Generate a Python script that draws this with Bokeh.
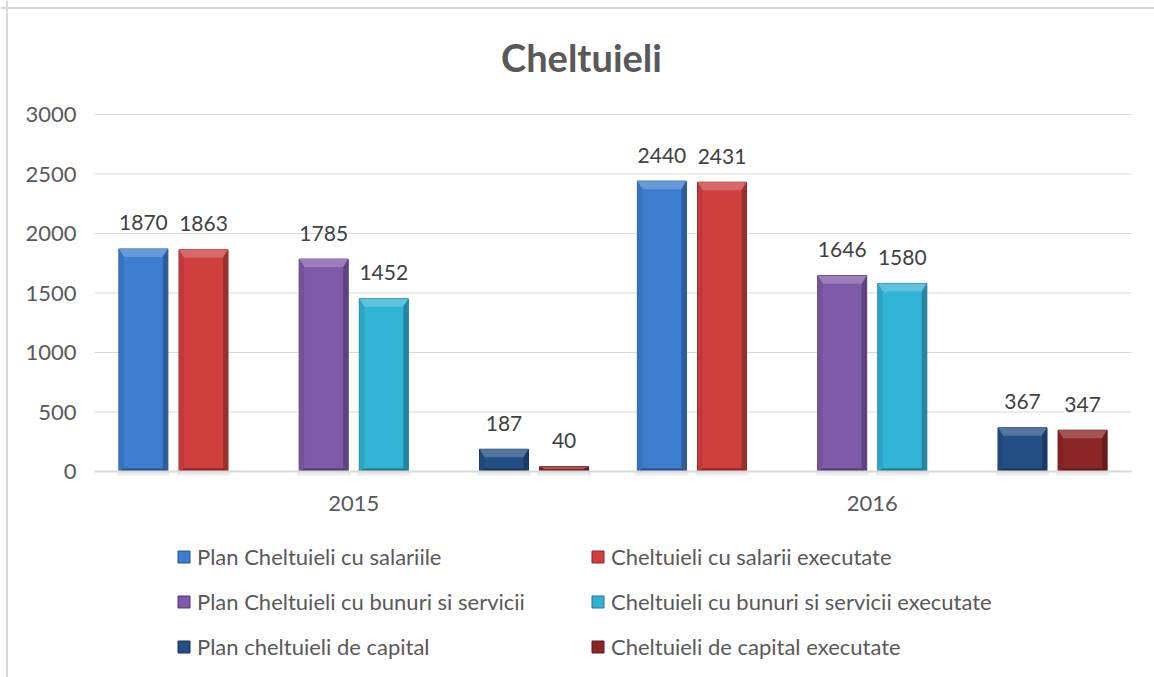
from bokeh.plotting import figure
from bokeh.models import (ColumnDataSource, Range1d, FixedTicker, Legend, LegendItem, Label, Span)
from bokeh.core.properties import value
from bokeh.embed import file_html
from bokeh.resources import INLINE

# ---- data ----
years = ["2015", "2016"]
series_names = [
    "Plan Cheltuieli cu salariile",
    "Cheltuieli cu salarii executate",
    "Plan Cheltuieli cu bunuri si servicii",
    "Cheltuieli cu bunuri si servicii executate",
    "Plan cheltuieli de capital",
    "Cheltuieli de capital executate",
]
plan_salarii = [1870, 2440]
exec_salarii = [1863, 2431]
plan_bunuri = [1785, 1646]
exec_bunuri = [1452, 1580]
plan_capital = [187, 367]
exec_capital = [40, 347]
y_ticks = [0, 500, 1000, 1500, 2000, 2500, 3000]
title_text = "Cheltuieli"

series_values = [plan_salarii, exec_salarii, plan_bunuri, exec_bunuri, plan_capital, exec_capital]
colors = ["#3c7dcf", "#cf3f3d", "#7f5aa8", "#31b3d6", "#244f86", "#8c2626"]
slots = [0, 1, 3, 4, 6, 7]

# ---- layout (pixels on the canvas) ----
W, H = 1154, 677
PLOT_L, PLOT_R = 94, 1131      # plot area left/right on canvas
PLOT_T, PLOT_B = 114, 471      # y=3000 / y=0 on canvas
YMAX = y_ticks[-1]
ncat = len(years)

dx = ncat / (PLOT_R - PLOT_L)          # data units per px
dy = YMAX / (PLOT_B - PLOT_T)

x_start = -PLOT_L * dx
x_end = (W - PLOT_L) * dx
y_end = YMAX + PLOT_T * dy
y_start = -(H - PLOT_B) * dy

def px_x(px):
    return x_start + px * dx

def px_y(py):
    return y_end - py * dy

FONT = "Lato"
TXT = "#595959"
FS = "22px"

p = figure(width=W, height=H, output_backend="svg", toolbar_location=None,
           x_range=Range1d(x_start, x_end), y_range=Range1d(y_start, y_end),
           min_border_left=0, min_border_right=0, min_border_top=0, min_border_bottom=0,
           tools="")
p.outline_line_color = None
p.background_fill_color = "white"
p.border_fill_color = "white"
p.xgrid.visible = False
p.ygrid.visible = False

# chart border (left / top)
p.add_layout(Span(location=px_x(6.5), dimension="height", line_color="#d9d9d9", line_width=2))
p.add_layout(Span(location=px_y(7.5), dimension="width", line_color="#d9d9d9", line_width=2))

# horizontal gridlines limited to the plot area
p.segment(x0=[0] * len(y_ticks), x1=[ncat] * len(y_ticks), y0=y_ticks, y1=y_ticks,
          line_color="#d9d9d9", line_width=1)

slot_w = 60.1 * dx
bar_w = 49 * dx

def hex_to_rgb(h):
    h = h.lstrip("#")
    return tuple(int(h[i:i + 2], 16) for i in (0, 2, 4))

def shade(h, f):
    r, g, b = hex_to_rgb(h)
    if f >= 0:
        r, g, b = [int(c + (255 - c) * f) for c in (r, g, b)]
    else:
        r, g, b = [int(c * (1 + f)) for c in (r, g, b)]
    return "#%02x%02x%02x" % (r, g, b)

centers = [i + 0.5 for i in range(ncat)]
renderers = []
for k, (name, vals, col) in enumerate(zip(series_names, series_values, colors)):
    off = (slots[k] - 3.5) * slot_w
    xs = [c + off for c in centers]
    src = ColumnDataSource(dict(x=xs, top=vals, lab=[str(v) for v in vals]))
    # soft shadow
    p.vbar(x="x", top=0, bottom=-4 * dy, width=bar_w + 4 * dx, source=src,
           fill_color="#ececec", line_color=None)
    r = p.vbar(x="x", top="top", width=bar_w, source=src, fill_color=col,
               line_color=shade(col, -0.35), line_width=1)
    renderers.append(r)
    # bevel facets
    pxs, pys, pcs = [], [], []
    for x, t in zip(xs, vals):
        L, R = x - bar_w / 2, x + bar_w / 2
        hpx = t / dy
        bt = min(8, hpx / 2) * dy
        bb = min(3, hpx / 4) * dy
        bx = 5 * dx
        pxs.append([L, R, R - bx, L + bx]); pys.append([t, t, t - bt, t - bt]); pcs.append(shade(col, 0.22))
        pxs.append([L, L, L + bx, L + bx]); pys.append([0, t, t - bt, bb]); pcs.append(shade(col, -0.08))
        pxs.append([R, R, R - bx, R - bx]); pys.append([0, t, t - bt, bb]); pcs.append(shade(col, -0.25))
        pxs.append([L, R, R - bx, L + bx]); pys.append([0, 0, bb, bb]); pcs.append(shade(col, -0.35))
    p.patches(xs=pxs, ys=pys, fill_color=pcs, line_color=None)
    p.text(x="x", y="top", text="lab", source=src, text_align="center",
           text_baseline="middle", y_offset=-26, text_font=value(FONT),
           text_font_size="21px", text_color="#404040")

# axes drawn at fixed data locations
p.xaxis.fixed_location = 0
p.xaxis.bounds = (0, ncat)
p.xaxis.ticker = FixedTicker(ticks=centers)
p.xaxis.major_label_overrides = {c: y for c, y in zip(centers, years)}
p.xaxis.axis_line_color = "#d9d9d9"
p.xaxis.axis_line_width = 2
p.xaxis.major_tick_line_color = None
p.xaxis.minor_tick_line_color = None
p.xaxis.major_label_standoff = 18
p.xaxis.major_label_text_font = FONT
p.xaxis.major_label_text_font_size = FS
p.xaxis.major_label_text_color = TXT

p.yaxis.fixed_location = 0
p.yaxis.bounds = (0, YMAX)
p.yaxis.ticker = FixedTicker(ticks=y_ticks)
p.yaxis.axis_line_color = None
p.yaxis.major_tick_line_color = None
p.yaxis.minor_tick_line_color = None
p.yaxis.major_label_standoff = 12
p.yaxis.major_label_text_font = FONT
p.yaxis.major_label_text_font_size = FS
p.yaxis.major_label_text_color = TXT

# title
p.add_layout(Label(x=px_x(581), y=px_y(56), text=title_text, text_align="center",
                   text_baseline="middle", text_font=FONT, text_font_style="bold",
                   text_font_size="38px", text_color=TXT))

# legends: two columns
def make_legend(idx, xloc):
    lg = Legend(items=[LegendItem(label=series_names[i], renderers=[renderers[i]]) for i in idx],
                location=(xloc, 17), orientation="vertical",
                glyph_width=15, glyph_height=15, label_standoff=6, label_height=25,
                label_text_font=FONT, label_text_font_size=FS, label_text_color=TXT,
                spacing=18, padding=0, margin=0, border_line_color=None,
                background_fill_alpha=0)
    p.add_layout(lg, "center")

make_legend([0, 2, 4], 176)
make_legend([1, 3, 5], 590)

open("out.html", "w").write(file_html(p, INLINE))
